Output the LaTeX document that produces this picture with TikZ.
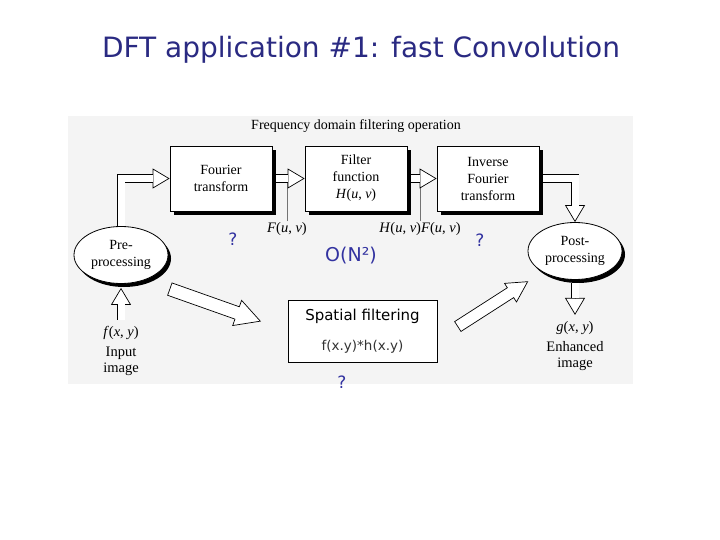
\documentclass[tikz,border=0pt]{standalone}
\usepackage{fontspec}
\setmainfont{Liberation Serif}
\newfontfamily\tahoma{DejaVu Sans}
\usetikzlibrary{arrows.meta,positioning,calc,shapes.geometric,shapes.arrows,shadows}
\definecolor{titleblue}{RGB}{42,42,130}
\definecolor{qblue}{RGB}{50,50,160}
\definecolor{scanbg}{RGB}{244,244,244}

\begin{document}
\begin{tikzpicture}[x=1pt,y=-1pt,>=Latex]
  \tikzstyle{box}=[draw,fill=white,line width=0.8pt,minimum width=102pt,minimum height=65pt,align=center,font=\fontsize{14}{17}\selectfont,drop shadow={shadow xshift=4pt,shadow yshift=-4pt,opacity=1,fill=black}]
  \tikzstyle{proc}=[ellipse,draw,fill=white,line width=0.8pt,minimum width=94pt,minimum height=57pt,align=center,inner sep=0pt,font=\fontsize{14}{17}\selectfont,drop shadow={shadow xshift=3pt,shadow yshift=-3.5pt,opacity=1,fill=black}]
  \tikzstyle{shaft}=[draw=black,line width=0.7pt,double=white,double distance=7pt]
  \tikzstyle{head}=[line width=0.7pt,-{Triangle[length=17pt,width=20pt,fill=white]}]
  \tikzstyle{bigarrow}=[single arrow,draw,fill=white,line width=0.7pt,inner xsep=0pt,single arrow tip angle=57,anchor=tail]
  \tikzstyle{lbl}=[align=center,inner sep=1pt,font=\fontsize{14.5}{16}\selectfont]
  \tikzstyle{tick}=[line width=0.6pt,black!55]
  \tikzstyle{note}=[text=qblue,font=\tahoma\fontsize{17}{20}\selectfont]
  \useasboundingbox (0,0) rectangle (720,540);
  \fill[scanbg] (68,116) rectangle (633,384);
  \node[anchor=base,text=titleblue,font=\tahoma\fontsize{28}{32}\selectfont] (title) at (361,58) {DFT application \#1: fast Convolution};
  \node[font=\fontsize{14}{16}\selectfont] (freqop) at (356,126) {Frequency domain filtering operation};
  % frequency domain chain
  \node[box] (fourier) at (221,178.5) {Fourier\\transform};
  \node[box] (filter) at (356,178.5) {Filter\\function\\\textit{H}(\textit{u}, \textit{v})};
  \node[box] (inverse) at (488,178.5) {Inverse\\Fourier\\transform};
  \node[proc] (pre) at (121,255) {Pre-\\processing};
  \node[proc] (post) at (575,251) {Post-\\processing};
  \node[lbl] (fuv) at (287,229) {\textit{F}(\textit{u}, \textit{v})};
  \node[lbl] (hfuv) at (420,229) {\textit{H}(\textit{u}, \textit{v})\textit{F}(\textit{u}, \textit{v})};
  \draw[tick] (fuv.north) -- (fuv.north |- fourier.east);
  \draw[tick] (hfuv.north) -- (hfuv.north |- filter.east);
  \draw[head] ($(fourier.west)+(-17pt,0)$) -- (fourier.west);
  \draw[shaft] (pre.north) |- ($(fourier.west)+(-16.5pt,0)$);
  \draw[head] ($(filter.west)+(-17pt,0)$) -- (filter.west);
  \draw[shaft] ($(fourier.east)+(4pt,0)$) -- ($(filter.west)+(-16.5pt,0)$);
  \draw[head] ($(inverse.west)+(-17pt,0)$) -- (inverse.west);
  \draw[shaft] ($(filter.east)+(4pt,0)$) -- ($(inverse.west)+(-16.5pt,0)$);
  \draw[head] ($(post.north)+(0,17pt)$) -- (post.north);
  \draw[shaft] ($(inverse.east)+(4pt,0)$) -| ($(post.north)+(0,16.5pt)$);
  % input and output
  \coordinate (inTail) at ($(pre.south)+(0,-36pt)$);
  \draw[head] ($(pre.south)+(0,-21pt)$) -- ($(pre.south)+(0,-4pt)$);
  \draw[shaft] (inTail) -- ($(pre.south)+(0,-20.5pt)$);
  \node[lbl,below=5pt of inTail] (inLbl) {\textit{f}(\textit{x}, \textit{y})\\[4pt]Input\\image};
  \coordinate (outTip) at ($(post.south)+(0,-35pt)$);
  \draw[head] ($(post.south)+(0,-18pt)$) -- (outTip);
  \draw[shaft] ($(post.south)+(0,-3pt)$) -- ($(post.south)+(0,-18.5pt)$);
  \node[lbl,below=5pt of outTip] (outLbl) {\textit{g}(\textit{x}, \textit{y})\\[4pt]Enhanced\\image};
  % spatial domain
  \node[draw,fill=white,line width=0.8pt,minimum width=149pt,minimum height=62pt,align=center,font=\tahoma\fontsize{15}{30}\selectfont] (spatial) at (362.5,331)
    {Spatial filtering\\{\fontsize{13.5}{30}\selectfont\color{black!80}f(x.y)*h(x.y)}};
  \node[bigarrow,inner ysep=6.2pt,single arrow head extend=6.8pt,minimum height=96pt,rotate=-19.5] (toSpatial) at (169.5,289) {};
  \node[bigarrow,inner ysep=5.5pt,single arrow head extend=5.2pt,minimum height=83pt,rotate=32.7] (fromSpatial) at (457.5,326.7) {};
  \node[note] (qa) at (233,239) {?};
  \node[note,font=\tahoma\fontsize{19}{22}\selectfont] (order) at (351,256) {O(N²)};
  \node[note] (qb) at (480,240) {?};
  \node[note] (qc) at (342,382) {?};
\end{tikzpicture}
\end{document}
